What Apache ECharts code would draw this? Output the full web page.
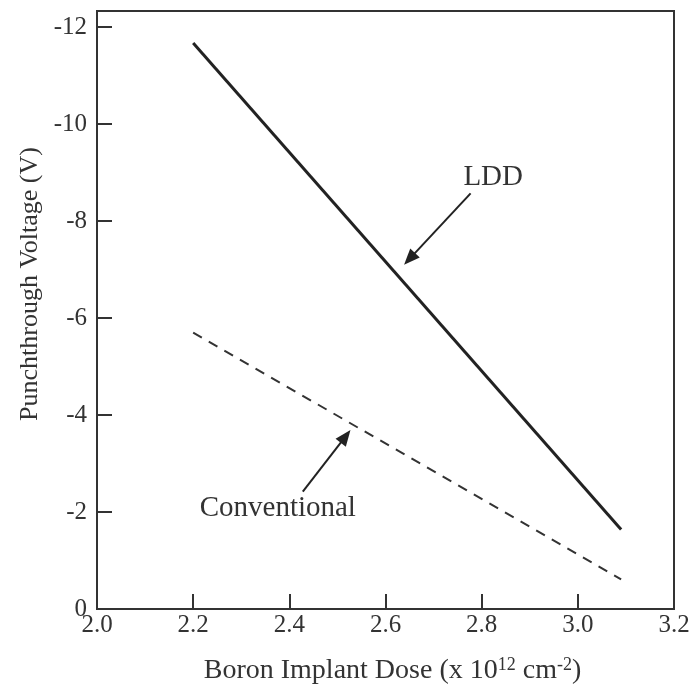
<!DOCTYPE html>
<html>
<head>
<meta charset="utf-8">
<script src="https://cdn.jsdelivr.net/npm/echarts@6/dist/echarts.min.js"></script>
<style>html,body{margin:0;padding:0;background:#fff}#c{width:693px;height:689px}</style>
</head>
<body>
<div id="c"></div>
<script>
// Data
const ldd = [[2.2, -11.67], [3.09, -1.64]];
const conventional = [[2.2, -5.70], [3.09, -0.61]];
const xTicks = [2.0, 2.2, 2.4, 2.6, 2.8, 3.0, 3.2];
const yTicks = [0, -2, -4, -6, -8, -10, -12];
const lddArrow = [[2.777, -8.57], [2.650, -7.22]];
const convArrow = [[2.428, -2.42], [2.517, -3.56]];
const lddLabel = [2.824, -8.89];
const convLabel = [2.376, -2.08];

const FONT = '"Liberation Serif", "Times New Roman", serif';
const chart = echarts.init(document.getElementById('c'), null, {renderer: 'canvas'});
const arrowLine = (pts) => ({
  silent: true,
  symbol: ['none', 'triangle'],
  symbolSize: [13, 16],
  label: {show: false},
  lineStyle: {type: 'solid', color: '#222', width: 2},
  emphasis: {disabled: true},
  animation: false,
  data: [[{coord: pts[0]}, {coord: pts[1]}]]
});
const textPoint = (p, text) => ({
  silent: true,
  symbol: 'circle',
  symbolSize: 0,
  animation: false,
  label: {show: true, position: 'inside', formatter: text, color: '#333', fontFamily: FONT, fontSize: 29},
  data: [{coord: p}]
});
chart.setOption({
  animation: false,
  backgroundColor: '#fff',
  grid: {left: 97, right: 19, top: 11, bottom: 80, containLabel: false, outerBoundsMode: 'none',
    show: true, borderColor: '#333', borderWidth: 2, backgroundColor: 'transparent'},
  xAxis: {
    type: 'value', min: 2.0, max: 3.2, interval: 0.2,
    axisLine: {lineStyle: {color: '#333', width: 2}},
    axisTick: {inside: true, length: 15, lineStyle: {color: '#333', width: 2}},
    splitLine: {show: false},
    axisLabel: {color: '#333', fontFamily: FONT, fontSize: 25, margin: 4,
      formatter: v => xTicks.some(t => Math.abs(t - v) < 1e-6) ? v.toFixed(1) : ''},
    name: '{a|Boron Implant Dose (x 10}{s|12}{a| cm}{s|-2}{a|)}',
    nameLocation: 'middle', nameGap: 47,
    nameTextStyle: {color: '#333', fontFamily: FONT, fontSize: 28, padding: [0, 0, 0, 14],
      rich: {a: {fontFamily: FONT, fontSize: 28, color: '#333', lineHeight: 30},
             s: {fontFamily: FONT, fontSize: 18, color: '#333', lineHeight: 30, padding: [0, 0, 12, 0]}}}
  },
  yAxis: {
    type: 'value', inverse: true, min: -12.33, max: 0, splitNumber: 6,
    axisLine: {lineStyle: {color: '#333', width: 2}},
    axisTick: {inside: true, length: 15, lineStyle: {color: '#333', width: 2}},
    splitLine: {show: false},
    axisLabel: {color: '#333', fontFamily: FONT, fontSize: 25, margin: 10, showMinLabel: false,
      formatter: v => yTicks.some(t => Math.abs(t - v) < 1e-6) ? String(Math.round(v)) : ''},
    name: 'Punchthrough Voltage (V)',
    nameLocation: 'middle', nameGap: 52,
    nameTextStyle: {color: '#333', fontFamily: FONT, fontSize: 26, padding: [0, 0, 0, 52]}
  },
  series: [
    {type: 'line', data: ldd, symbol: 'none', lineStyle: {color: '#222', width: 3}, silent: true,
     markLine: arrowLine(lddArrow), markPoint: textPoint(lddLabel, 'LDD')},
    {type: 'line', data: conventional, symbol: 'none', lineStyle: {color: '#333', width: 2, type: [10, 8]}, silent: true,
     markLine: arrowLine(convArrow), markPoint: textPoint(convLabel, 'Conventional')}
  ]
});
</script>
</body>
</html>
